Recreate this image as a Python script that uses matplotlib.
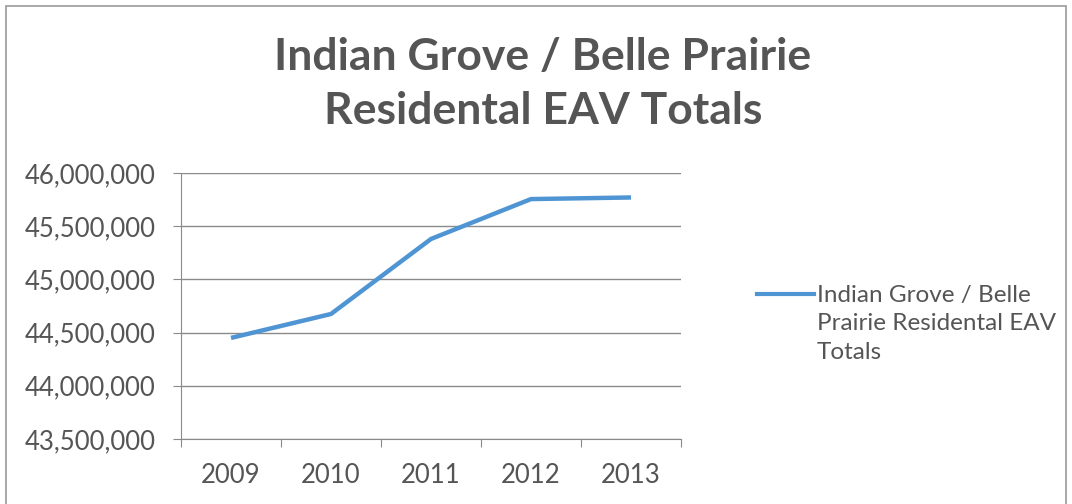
import matplotlib.pyplot as plt
from matplotlib.lines import Line2D
from matplotlib.patches import Rectangle
from matplotlib.ticker import FuncFormatter

plt.rcParams['font.family'] = ['Lato', 'DejaVu Sans']

years = ['2009', '2010', '2011', '2012', '2013']
eav_totals = [44450000, 44675000, 45380000, 45755000, 45770000]
series_name = 'Indian Grove / Belle\nPrairie Residental EAV\nTotals'
title = 'Indian Grove / Belle Prairie\nResidental EAV Totals'

text_gray = '#555555'
grid_gray = '#8a8a8a'
line_blue = '#4f95d3'

fig = plt.figure(figsize=(10.72, 5.04), dpi=100)
fig.patches.append(Rectangle((6 / 1072, -0.1), 1060 / 1072, 1.1 - 6 / 504,
                             transform=fig.transFigure, fill=False,
                             edgecolor='#9a9a9a', lw=1.2))

ax = fig.add_axes([181 / 1072, 65 / 504, 500 / 1072, 266 / 504])
ax.plot(range(len(years)), eav_totals, color=line_blue, lw=3.2,
        solid_capstyle='butt')

ax.set_ylim(43500000, 46000000)
ax.set_yticks(range(43500000, 46000001, 500000))
ax.yaxis.set_major_formatter(FuncFormatter(lambda v, p: f'{int(v):,}'))
ax.set_xlim(-0.5, len(years) - 0.5)
ax.set_xticks([i - 0.5 for i in range(len(years) + 1)])
ax.set_xticklabels([])
ax.set_xticks(range(len(years)), minor=True)
ax.set_xticklabels(years, minor=True)
ax.tick_params(axis='x', which='major', length=6, color=grid_gray, direction='out')
ax.tick_params(axis='x', which='minor', length=0, pad=17,
               labelsize=18.5, labelcolor=text_gray)
ax.tick_params(axis='y', length=6, color=grid_gray, pad=12.5,
               labelsize=18.5, labelcolor=text_gray)

ax.grid(axis='y', color=grid_gray, lw=1)
ax.set_axisbelow(True)
for side in ['top', 'right']:
    ax.spines[side].set_visible(False)
for side in ['left', 'bottom']:
    ax.spines[side].set_color(grid_gray)

fig.text(543 / 1072, 1 - 84 / 504, title, ha='center', va='center',
         fontsize=32, fontweight='bold', color=text_gray, linespacing=1.45)

# legend key and label
fig.add_artist(Line2D([757 / 1072, 814 / 1072], [1 - 294 / 504] * 2,
                      transform=fig.transFigure, color=line_blue, lw=3))
fig.text(817 / 1072, 1 - 285 / 504, series_name, ha='left', va='top',
         fontsize=17.5, color=text_gray, linespacing=1.43)

fig.savefig('out.png', dpi=100, facecolor='white')
